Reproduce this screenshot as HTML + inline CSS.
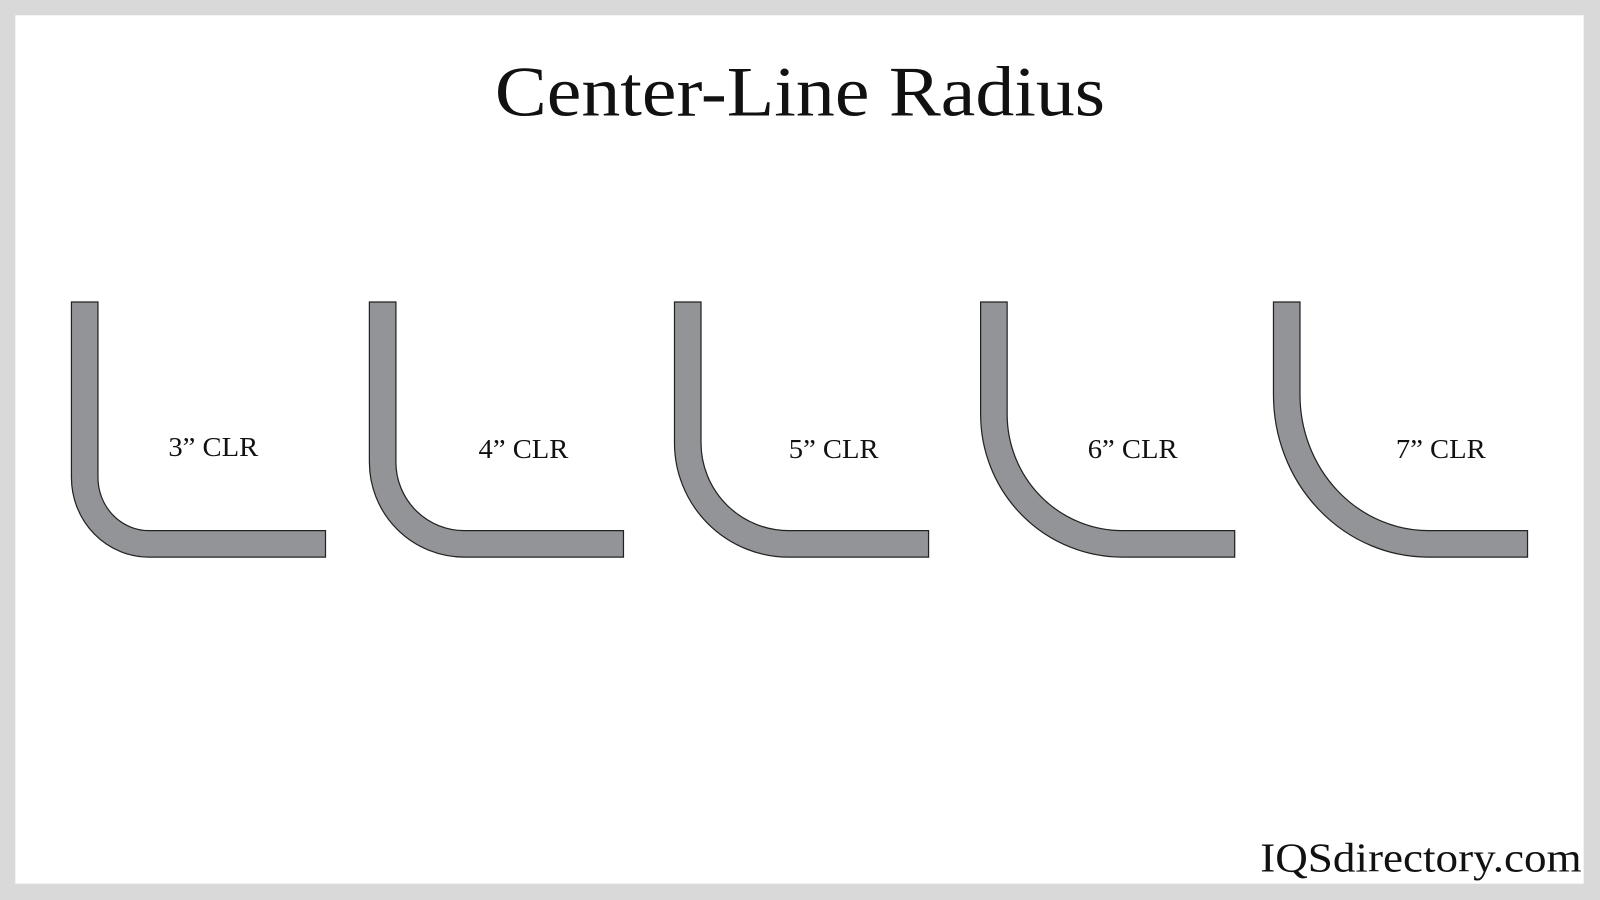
<!DOCTYPE html>
<html><head><meta charset="utf-8"><style>
html,body{margin:0;padding:0;width:1600px;height:900px;overflow:hidden;background:#d9d9d9}
svg{display:block}
</style></head><body>
<svg width="1600" height="900" viewBox="0 0 1568 882" preserveAspectRatio="none" xmlns="http://www.w3.org/2000/svg">
<rect x="0" y="0" width="1568" height="882" fill="#d9d9d9"/>
<rect x="15" y="15" width="1537" height="851" fill="#ffffff"/>
<text x="784" y="113" text-anchor="middle" font-family="Liberation Serif, serif" font-size="70" fill="#111" textLength="598" lengthAdjust="spacingAndGlyphs">Center-Line Radius</text>
<g fill="#939497" stroke="#222" stroke-width="1.2">
<path d="M70,296 L70,468 A76,78 0 0 0 146,546 L319,546 L319,520 L146,520 A50,52 0 0 1 96,468 L96,296 Z"/>
<path d="M362,296 L362,453 A93,93 0 0 0 455,546 L611,546 L611,520 L455,520 A67,67 0 0 1 388,453 L388,296 Z"/>
<path d="M661,296 L661,434 A112,112 0 0 0 773,546 L910,546 L910,520 L773,520 A86,86 0 0 1 687,434 L687,296 Z"/>
<path d="M961,296 L961,406 A139,140 0 0 0 1100,546 L1210,546 L1210,520 L1100,520 A113,114 0 0 1 987,406 L987,296 Z"/>
<path d="M1248,296 L1248,387 A152,159 0 0 0 1400,546 L1497,546 L1497,520 L1400,520 A126,133 0 0 1 1274,387 L1274,296 Z"/>
</g>
<g font-family="Liberation Serif, serif" font-size="27" fill="#111" text-anchor="middle">
<text x="209" y="447" textLength="88" lengthAdjust="spacingAndGlyphs">3” CLR</text>
<text x="513" y="449" textLength="88" lengthAdjust="spacingAndGlyphs">4” CLR</text>
<text x="817" y="449" textLength="88" lengthAdjust="spacingAndGlyphs">5” CLR</text>
<text x="1110" y="449" textLength="88" lengthAdjust="spacingAndGlyphs">6” CLR</text>
<text x="1412" y="449" textLength="88" lengthAdjust="spacingAndGlyphs">7” CLR</text>
</g>
<text x="1550" y="854" text-anchor="end" font-family="Liberation Serif, serif" font-size="40" fill="#111" textLength="315" lengthAdjust="spacingAndGlyphs">IQSdirectory.com</text>
</svg>
</body></html>
